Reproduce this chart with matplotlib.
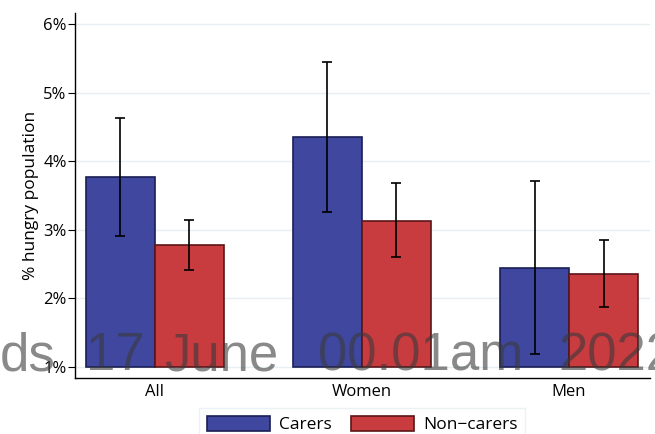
import numpy as np
import matplotlib.pyplot as plt

plt.rcParams['font.family'] = ['Open Sans', 'DejaVu Sans']

groups = ['All', 'Women', 'Men']
series = ['Carers', 'Non\u2212carers']
carers = [3.77, 4.35, 2.44]
carers_lo = [2.91, 3.26, 1.19]
carers_hi = [4.63, 5.45, 3.71]
noncarers = [2.78, 3.13, 2.36]
noncarers_lo = [2.41, 2.60, 1.87]
noncarers_hi = [3.14, 3.68, 2.85]
yticks = [1, 2, 3, 4, 5, 6]
base = 1.0

# embargo watermark, word by word
wm_words = ['ds', '17', 'June', '00.01am', '2022']
wm_x = [0, 86, 164, 318, 558]

fig = plt.figure(figsize=(6.55, 4.34), dpi=100)
ax = fig.add_axes([0.1145, 0.129, 0.8775, 0.841])

x = np.arange(len(groups))
w = 1/3
cols = [('#3F479E', '#1A1F55'), ('#C83C40', '#5A1618')]
for i, (vals, lo, hi) in enumerate([(carers, carers_lo, carers_hi),
                                    (noncarers, noncarers_lo, noncarers_hi)]):
    vals = np.array(vals)
    xp = x + (i - 0.5) * w
    ax.bar(xp, vals - base, bottom=base, width=w, color=cols[i][0],
           edgecolor=cols[i][1], linewidth=1.2, label=series[i], zorder=2)
    yerr = [vals - np.array(lo), np.array(hi) - vals]
    ax.errorbar(xp, vals, yerr=yerr, fmt='none', ecolor='black',
                elinewidth=1.2, capsize=3.5, capthick=1.2, zorder=3)

ax.set_xlim(-0.386, 2.39)
ax.set_ylim(0.84, 6.16)
ax.set_yticks(yticks)
ax.set_yticklabels([f'{t}%' for t in yticks], fontsize=12)
ax.set_xticks(x)
ax.set_xticklabels(groups, fontsize=12)
ax.tick_params(axis='x', length=0, pad=4)
ax.tick_params(axis='y', length=5, width=0.8, pad=1)
ax.grid(axis='y', color='#E6EFF1', linewidth=1, zorder=0)
ax.set_axisbelow(True)
for s in ['top', 'right']:
    ax.spines[s].set_visible(False)
ax.spines['left'].set_linewidth(1)
ax.spines['bottom'].set_linewidth(1)
ax.set_ylabel('% hungry population', fontsize=12.5, labelpad=3)

leg = ax.legend(loc='upper center', bbox_to_anchor=(0.5, -0.082), ncol=2,
                frameon=True, fontsize=12.5, handlelength=3.6, handleheight=0.95,
                handletextpad=0.55, columnspacing=1.1, borderpad=0.45,
                borderaxespad=0, fancybox=False)
leg.get_frame().set_edgecolor('#E6EFF1')
leg.get_frame().set_linewidth(1)

for word, px in zip(wm_words, wm_x):
    fig.text(px / 655, 0.147, word, fontsize=38, family='Liberation Sans',
             color='#3A3A3A', alpha=0.6, ha='left', va='baseline', zorder=10)

fig.savefig('out.png', dpi=100)
